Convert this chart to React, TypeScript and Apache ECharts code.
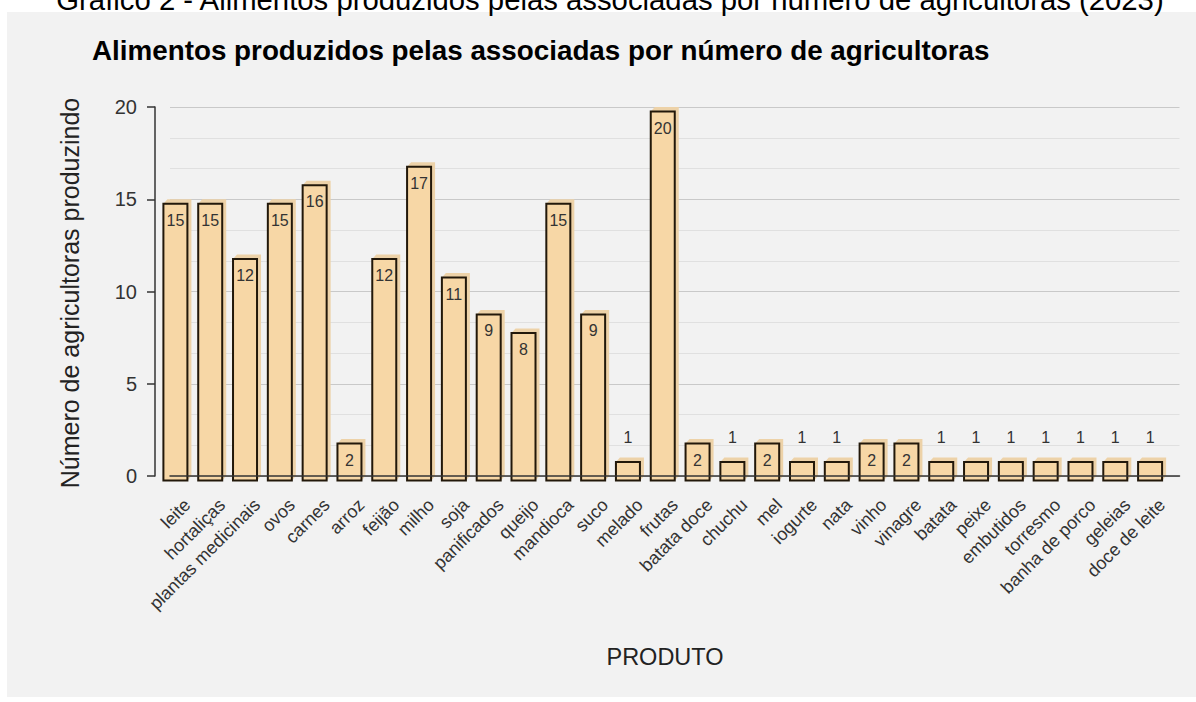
import React, { useEffect, useRef } from "react";
import * as echarts from "echarts";

const categories = [
  "leite", "hortaliças", "plantas medicinais", "ovos", "carnes", "arroz", "feijão", "milho",
  "soja", "panificados", "queijo", "mandioca", "suco", "melado", "frutas", "batata doce",
  "chuchu", "mel", "iogurte", "nata", "vinho", "vinagre", "batata", "peixe", "embutidos",
  "torresmo", "banha de porco", "geleias", "doce de leite",
];
const values = [15, 15, 12, 15, 16, 2, 12, 17, 11, 9, 8, 15, 9, 1, 20, 2, 1, 2, 1, 1, 2, 2, 1, 1, 1, 1, 1, 1, 1];
const yTicks = [0, 5, 10, 15, 20];

const mainTitle = "Gráfico 2 - Alimentos produzidos pelas associadas por número de agricultoras (2023)";
const chartTitle = "Alimentos produzidos pelas associadas por número de agricultoras";
const yName = "Número de agricultoras produzindo";
const xName = "PRODUTO";

const FONT = "'Liberation Sans', Arial, sans-serif";

export default function App() {
  const ref = useRef<HTMLDivElement>(null);
  useEffect(() => {
    if (!ref.current) return;
    const chart = echarts.init(ref.current, null, { renderer: "svg" });
    const data = categories.map((c, i) => [i, values[i]]);
    const DX = 12;
    const W = 24;
    const D = 4;
    const DY = 4.5;
    chart.setOption({
      animation: false,
      backgroundColor: "#f2f2f2",
      textStyle: { fontFamily: FONT },
      grid: { left: 170, right: 16.5, top: 107, bottom: 226, containLabel: false },
      xAxis: {
        type: "category",
        data: categories,
        z: 10,
        axisLine: { show: true, lineStyle: { color: "#333", width: 1.5 } },
        axisTick: { show: false },
        axisLabel: { rotate: 45, interval: 0, fontSize: 18, color: "#333", margin: 26, fontFamily: FONT },
        splitLine: { show: false },
      },
      yAxis: {
        type: "value",
        min: 0,
        max: 20,
        interval: 5,
        offset: 15,
        axisLine: { show: true, lineStyle: { color: "#333", width: 1.5 } },
        axisTick: { show: true, length: 8, lineStyle: { color: "#333", width: 1.5 } },
        axisLabel: {
          fontSize: 20, color: "#333", margin: 18, fontFamily: FONT,
          formatter: (v: number) => (yTicks.includes(v) ? String(v) : ""),
        },
        splitLine: { show: true, lineStyle: { color: "#c9c9c9", width: 1.2 } },
        minorTick: { show: false, splitNumber: 3 },
        minorSplitLine: { show: true, lineStyle: { color: "#e0e0e0", width: 1 } },
      },
      graphic: [
        { type: "rect", shape: { x: 0, y: 0, width: 1196, height: 12 }, style: { fill: "#ffffff" }, z: 0 },
        { type: "rect", shape: { x: 0, y: 0, width: 7, height: 702 }, style: { fill: "#ffffff" }, z: 0 },
        { type: "rect", shape: { x: 0, y: 697, width: 1196, height: 5 }, style: { fill: "#ffffff" }, z: 0 },
        {
          type: "text", x: 610, y: -1, z: 5,
          style: { text: mainTitle, fontSize: 29.3, fill: "#000", align: "center", verticalAlign: "middle", fontFamily: FONT },
        },
        {
          type: "text", x: 92, y: 50, z: 5,
          style: { text: chartTitle, fontSize: 27.8, fontWeight: "bold", fill: "#000", align: "left", verticalAlign: "middle", fontFamily: FONT },
        },
        {
          type: "text", x: 70, y: 293, rotation: Math.PI / 2, z: 5,
          style: { text: yName, fontSize: 25, fill: "#222", align: "center", verticalAlign: "middle", fontFamily: FONT },
        },
        {
          type: "text", x: 665, y: 657, z: 5,
          style: { text: xName, fontSize: 23.5, fill: "#222", align: "center", verticalAlign: "middle", fontFamily: FONT },
        },
      ],
      series: [
        {
          type: "custom",
          data,
          encode: { x: 0, y: 1 },
          renderItem: (params: any, api: any) => {
            const v = api.value(1);
            const i = api.value(0);
            const top = api.coord([i, v]);
            const base = api.coord([i, 0]);
            const cx = top[0] - DX;
            const h = base[1] - top[1];
            const x0 = cx - W / 2;
            const yf = top[1] + DY;
            return {
              type: "group",
              children: [
                {
                  type: "polygon",
                  shape: {
                    points: [
                      [x0, yf], [x0 + D, yf - DY], [x0 + W + D, yf - DY],
                      [x0 + W + D, yf + h - DY], [x0 + W, yf + h], [x0, yf + h],
                    ],
                  },
                  style: { fill: "#edd2a8" },
                },
                {
                  type: "rect",
                  shape: { x: x0, y: yf, width: W, height: h },
                  style: { fill: "#f7d7a6", stroke: "#22180a", lineWidth: 2 },
                },
                {
                  type: "text",
                  style: {
                    text: String(v),
                    x: cx,
                    y: v >= 2 ? yf + 16.5 : top[1] - 20,
                    align: "center",
                    verticalAlign: "middle",
                    fontSize: 16,
                    fill: "#333",
                    fontFamily: FONT,
                  },
                },
              ],
            };
          },
        },
      ],
    });
    return () => chart.dispose();
  }, []);
  return (
    <div
      ref={ref}
      style={{ position: "fixed", left: 0, top: 0, width: 1196, height: 702, background: "#fff" }}
    />
  );
}
